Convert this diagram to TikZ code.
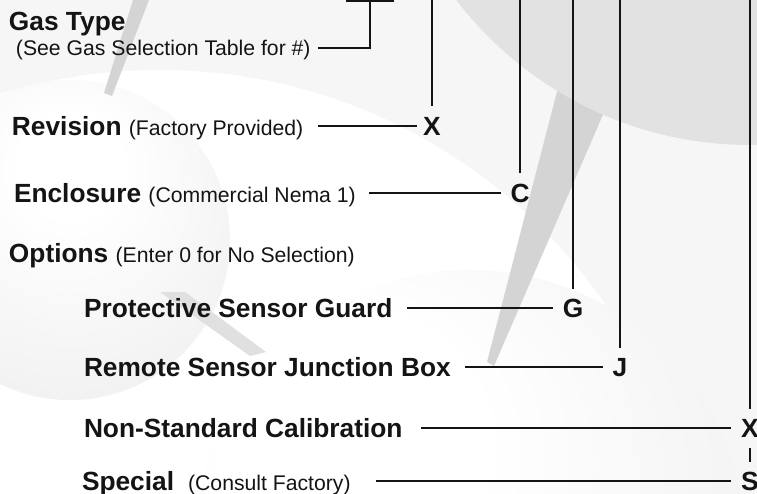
\documentclass[tikz,border=0pt]{standalone}
\usepackage{fontspec}
\setmainfont{Liberation Sans}
\definecolor{bgc}{HTML}{F6F6F6}
\definecolor{darkc}{HTML}{E2E2E2}
\definecolor{spikec}{HTML}{D4D4D4}
\definecolor{spikelc}{HTML}{E0E0E0}
\definecolor{inkc}{HTML}{141414}
\definecolor{sphmid}{HTML}{F2F2F2}
\definecolor{sphedge}{HTML}{DCDCDC}
\definecolor{sphout}{HTML}{D2D2D2}
\pgfdeclareradialshading{sphereL}{\pgfpoint{0bp}{14bp}}{color(0bp)=(white); color(8bp)=(white); color(30bp)=(sphmid); color(44bp)=(sphedge); color(50bp)=(sphout)}
\pgfdeclareradialshading{sphereB}{\pgfpoint{-14bp}{12bp}}{color(0bp)=(white); color(12bp)=(white); color(34bp)=(sphmid); color(46bp)=(sphedge); color(50bp)=(sphout)}
\newcommand\subtxt[1]{{\fontsize{21.2}{24}\selectfont\mdseries #1}}
\begin{document}
\begin{tikzpicture}[x=1pt,y=-1pt,
  lbl/.style={anchor=west,inner sep=0pt,outer sep=0pt,text height=19pt,text depth=0pt,
    font=\fontsize{26.3}{28}\selectfont\bfseries,text=inkc},
  code/.style={inner xsep=10pt,inner ysep=10pt,outer sep=0pt,text height=19pt,text depth=0pt,
    font=\fontsize{26.3}{28}\selectfont\bfseries,text=inkc},
  boxstyle/.style={draw=inkc,line width=2pt,minimum width=46pt,minimum height=22pt,inner sep=0pt,outer sep=0pt},
  wire/.style={line width=2pt,draw=inkc}]

\useasboundingbox (0,0) rectangle (757,494);
\begin{scope}
\clip (0,0) rectangle (757,494);
\fill[bgc] (0,0) rectangle (757,494);
\fill[white] (160,610) circle[radius=540pt];
\shade[shading=sphereL] (70,240) circle[radius=160pt];
\shade[shading=sphereB] (470,545) circle[radius=275pt];
\fill[spikec] (133,0) -- (149,0) -- (112,96) -- (104,93) -- cycle;
\fill[spikelc] (160,292) -- (185,292) -- (266,352) -- (250,356) -- cycle;
\fill[spikec] (560,80) -- (618,80) -- (494,366) -- (487,362) -- cycle;
\fill[darkc] (750,-225) circle[radius=370pt];
\end{scope}

% labels
\node[lbl] (gas) at (9,21) {Gas Type};
\node[lbl,text height=15pt,font=\fontsize{21.2}{24}\selectfont] (see) at (16,48.5) {(See Gas Selection Table for \#)};
\node[lbl] (rev) at (12,126) {Revision \subtxt{(Factory Provided)}};
\node[lbl] (enc) at (14,193) {Enclosure \subtxt{(Commercial Nema 1)}};
\node[lbl] (opt) at (9,252.5) {Options \subtxt{(Enter 0 for No Selection)}};
\node[lbl] (psg) at (84,308) {Protective Sensor Guard};
\node[lbl] (rsj) at (84,367) {Remote Sensor Junction Box};
\node[lbl] (nsc) at (84,428) {Non-Standard Calibration};
\node[lbl] (spc) at (82,481) {Special\hspace{14pt}\subtxt{(Consult Factory)}};

% code letters
\node[boxstyle] (box) at (370,-10) {};
\node[code,inner xsep=6pt] (X1) at (432,126) {X};
\node[code] (C) at (520,193) {C};
\node[code] (G) at (573,308) {G};
\node[code] (J) at (620,367) {J};
\node[code] (X2) at (750,428) {X};
\node[code] (S) at (750,481) {S};

\coordinate (t1) at (432,0);
\coordinate (t2) at (520,0);
\coordinate (t3) at (573,0);
\coordinate (t4) at (620,0);
\coordinate (t5) at (750,0);

% connectors
\draw[wire,shorten <=7pt] (see.east) -| (box.south);
\draw[wire,shorten <=15pt] (rev.east) -- (X1.west);
\draw[wire,shorten <=13pt] (enc.east) -- (C.west);
\draw[wire,shorten <=15pt] (psg.east) -- (G.west);
\draw[wire,shorten <=14pt] (rsj.east) -- (J.west);
\draw[wire,shorten <=18pt] (nsc.east) -- (X2.west);
\draw[wire,shorten <=25pt] (spc.east) -- (S.west);
\draw[wire] (t1) -- (X1.north);
\draw[wire] (t2) -- (C.north);
\draw[wire] (t3) -- (G.north);
\draw[wire] (t4) -- (J.north);
\draw[wire] (t5) -- (X2.north);
\draw[wire] (X2.south) -- (S.north);
\end{tikzpicture}
\end{document}
